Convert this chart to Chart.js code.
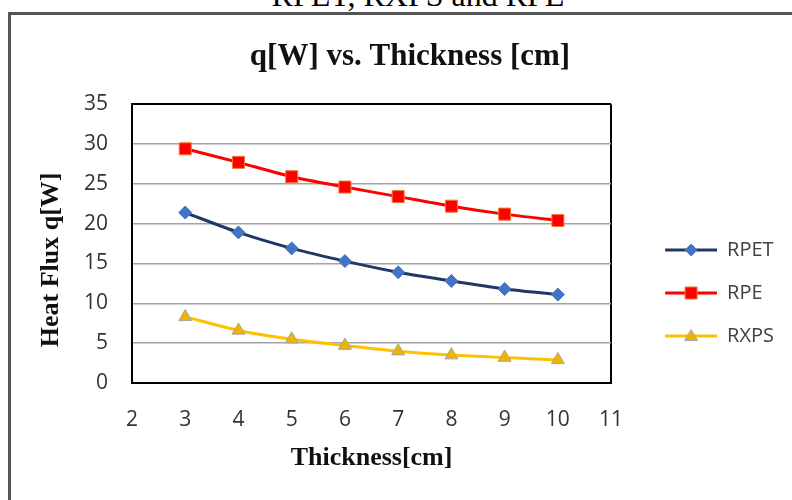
<!DOCTYPE html>
<html lang="en">
<head>
    <meta charset="UTF-8">
    <title>q[W] vs. Thickness [cm]</title>
    <script src="https://cdn.jsdelivr.net/npm/chart.js"></script>
    <style>
        body { margin: 0; background: #fff; }
        #wrap { position: relative; width: 792px; height: 500px; overflow: hidden; background: #fff; }
        #head {
            position: absolute; left: 0; width: 836px; top: -20px;
            text-align: center; font: 32px/30px "Liberation Serif", serif; color: #000;
            white-space: nowrap;
        }
        #frame {
            position: absolute; left: 8px; top: 12px; width: 900px; height: 600px;
            border: 3px solid #555;
        }
        #chart { position: absolute; left: 0; top: 0; }
    </style>
</head>
<body>
    <div id="wrap">
        <div id="head">RPET, RXPS and RPE</div>
        <div id="frame"></div>
        <canvas id="chart" width="792" height="586"></canvas>
    </div>

    <script>
        // data
        const thickness = [3, 4, 5, 6, 7, 8, 9, 10];
        const rpet = [21.4, 18.9, 16.9, 15.3, 13.9, 12.8, 11.8, 11.1];
        const rpe = [29.4, 27.7, 25.9, 24.6, 23.4, 22.2, 21.2, 20.4];
        const rxps = [8.3, 6.6, 5.5, 4.7, 4.0, 3.5, 3.2, 2.9];
        const seriesNames = ['RPET', 'RPE', 'RXPS'];
        const xTicks = [2, 3, 4, 5, 6, 7, 8, 9, 10, 11];
        const yTicks = [0, 5, 10, 15, 20, 25, 30, 35];

        const styles = [
            { line: '#1f3864', fill: '#4472c4', edge: '#4472c4', shape: 'rectRot', r: 6.5 },
            { line: '#ff0000', fill: '#ff0000', edge: '#ed7d31', shape: 'rect', r: 8.5 },
            { line: '#ffc000', fill: '#f0b400', edge: '#a5a5a5', shape: 'triangle', r: 7.5 }
        ];

        // plot box wanted in the picture
        const plotLeft = 132, plotBottom = 383, canvasH = 586;

        function toPoints(values) {
            return values.map((v, i) => ({ x: thickness[i], y: v }));
        }

        // small line+marker swatches for the legend, Excel style
        function legendSwatch(s) {
            const c = document.createElement('canvas');
            c.width = 83; c.height = 20;
            const g = c.getContext('2d');
            const m = 57;
            g.strokeStyle = s.line; g.lineWidth = 3;
            g.beginPath(); g.moveTo(31, 10); g.lineTo(83, 10); g.stroke();
            g.fillStyle = s.fill; g.strokeStyle = s.edge; g.lineWidth = 1;
            g.beginPath();
            if (s.shape === 'rectRot') {
                g.moveTo(m, 4); g.lineTo(m + 6, 10); g.lineTo(m, 16); g.lineTo(m - 6, 10);
            } else if (s.shape === 'rect') {
                g.rect(m - 6, 4, 12, 12);
            } else {
                g.moveTo(m, 3.5); g.lineTo(m + 6.5, 14.5); g.lineTo(m - 6.5, 14.5);
            }
            g.closePath(); g.fill(); g.stroke();
            return c;
        }
        const swatches = styles.map(legendSwatch);

        const datasets = [rpet, rpe, rxps].map((vals, i) => ({
            label: seriesNames[i],
            data: toPoints(vals),
            borderColor: styles[i].line,
            borderWidth: 3,
            backgroundColor: styles[i].fill,
            pointStyle: styles[i].shape,
            pointRadius: styles[i].r,
            pointHoverRadius: styles[i].r,
            pointBackgroundColor: styles[i].fill,
            pointBorderColor: styles[i].edge,
            pointBorderWidth: 1,
            tension: 0.25,
            fill: false
        }));

        const layoutLeft = 36;

        new Chart(document.getElementById('chart'), {
            type: 'line',
            data: { datasets },
            options: {
                responsive: false,
                animation: false,
                layout: { padding: { left: layoutLeft, right: 8, top: 0, bottom: 0 } },
                plugins: {
                    tooltip: { enabled: false },
                    title: {
                        display: true,
                        text: 'q[W] vs. Thickness [cm]',
                        color: '#111',
                        font: { family: '"Liberation Serif", serif', size: 31, weight: 'bold' },
                        padding: { top: 38, bottom: 29 }
                    },
                    legend: {
                        position: 'right',
                        labels: {
                            usePointStyle: true,
                            pointStyleWidth: 83,
                            padding: 23,
                            color: '#404040',
                            font: { family: '"Open Sans", sans-serif', size: 20 },
                            generateLabels(chart) {
                                const items = Chart.defaults.plugins.legend.labels.generateLabels(chart);
                                items.forEach((it, i) => { it.pointStyle = swatches[i]; });
                                return items;
                            }
                        }
                    }
                },
                scales: {
                    x: {
                        type: 'linear',
                        min: xTicks[0],
                        max: xTicks[xTicks.length - 1],
                        afterBuildTicks(scale) { scale.ticks = xTicks.map(v => ({ value: v })); },
                        afterFit(scale) { scale.height = canvasH - plotBottom; },
                        grid: {
                            drawTicks: false,
                            lineWidth: 2,
                            color: ctx => ctx.tick && ctx.tick.value === 11 ? '#000' : 'rgba(0,0,0,0)'
                        },
                        border: { color: '#000', width: 2 },
                        ticks: {
                            padding: 24,
                            color: '#333',
                            font: { family: '"Open Sans", sans-serif', size: 21 }
                        },
                        title: {
                            display: true,
                            text: 'Thickness[cm]',
                            color: '#111',
                            font: { family: '"Liberation Serif", serif', size: 26, weight: 'bold' },
                            padding: { top: 12, bottom: 112 }
                        }
                    },
                    y: {
                        min: yTicks[0],
                        max: yTicks[yTicks.length - 1],
                        afterBuildTicks(scale) { scale.ticks = yTicks.map(v => ({ value: v })); },
                        afterFit(scale) { scale.width = plotLeft - layoutLeft; },
                        grid: {
                            drawTicks: false,
                            lineWidth: ctx => ctx.tick && ctx.tick.value === 35 ? 2 : 1.5,
                            color: ctx => ctx.tick && ctx.tick.value === 35 ? '#000' : '#a3a3a3'
                        },
                        border: { color: '#000', width: 2 },
                        ticks: {
                            padding: 24,
                            color: '#333',
                            font: { family: '"Open Sans", sans-serif', size: 21 }
                        },
                        title: {
                            display: true,
                            // trailing spaces push the words a little down, as in the original
                            text: 'Heat Flux q[W]     ',
                            color: '#111',
                            font: { family: '"Liberation Serif", serif', size: 26, weight: 'bold' },
                            padding: { top: 0, bottom: 0 }
                        }
                    }
                }
            }
        });
    </script>
</body>
</html>
